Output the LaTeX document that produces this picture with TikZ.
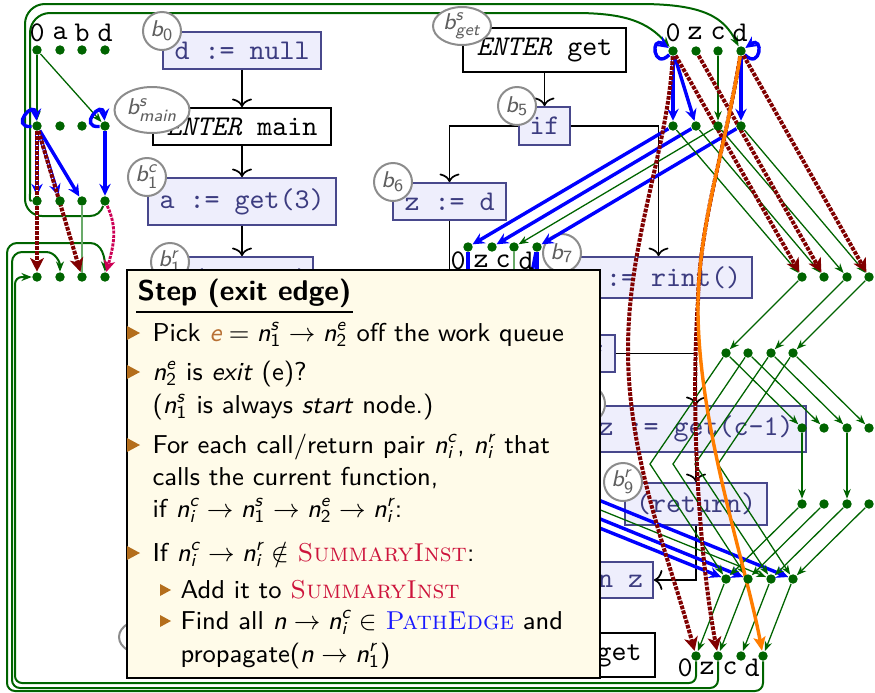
\RequirePackage{fix-cm}
\documentclass[tikz,border=0pt]{standalone}
\usepackage{amsmath,amssymb}
\usetikzlibrary{arrows.meta,shapes.geometric}

\pgfdeclarelayer{calls}
\pgfdeclarelayer{boxes}
\pgfdeclarelayer{edges}
\pgfdeclarelayer{top}
\pgfsetlayers{calls,boxes,edges,main,top}

\definecolor{dgreen}{RGB}{0,100,0}
\definecolor{lgreen}{RGB}{105,170,105}
\definecolor{dred}{RGB}{128,0,0}
\definecolor{crim}{RGB}{205,0,85}
\definecolor{orng}{RGB}{255,125,0}
\definecolor{pblue}{RGB}{0,0,255}
\definecolor{boxfill}{RGB}{238,238,252}
\definecolor{boxline}{RGB}{72,72,140}
\definecolor{boxtext}{RGB}{60,60,128}
\definecolor{labgray}{RGB}{140,140,140}
\definecolor{labtext}{RGB}{95,95,95}
\definecolor{cream}{RGB}{255,251,233}
\definecolor{itemcol}{RGB}{180,110,28}
\definecolor{ecol}{RGB}{184,112,52}
\definecolor{sumcol}{RGB}{205,20,60}
\definecolor{pathcol}{RGB}{25,25,255}

% sans-serif math letters, as on the slides
\newcommand\sv[1]{\text{\normalfont\sffamily\itshape #1}}
\newcommand\su[1]{\text{\normalfont\sffamily #1}}
\newcommand\Nd[2]{\sv{n}^{\sv{#1}}_{#2}}
\newcommand\SumInst{\textcolor{sumcol}{\textrm{\textsc{SummaryInst}}}}
\newcommand\PathE{\textcolor{pathcol}{\textrm{\textsc{PathEdge}}}}

\begin{document}
\begin{tikzpicture}[x=0.35pt,y=0.35pt,
  dot/.style={circle,fill=dgreen,inner sep=0pt,minimum size=3.3pt},
  var/.style={inner sep=0pt,font=\fontsize{10}{12}\selectfont\ttfamily},
  stmt/.style={draw=boxline,fill=boxfill,text=boxtext,line width=0.6pt,inner sep=0pt,font=\fontsize{10}{12}\selectfont\ttfamily},
  ctl/.style={draw=black,fill=white,line width=0.6pt,inner sep=0pt,font=\fontsize{10}{12}\selectfont\ttfamily},
  blab/.style={circle,draw=labgray,fill=white,line width=0.7pt,inner sep=0pt,minimum size=13.3pt,text=labtext,font=\fontsize{8}{9}\selectfont},
  elab/.style={ellipse,draw=labgray,fill=white,line width=0.7pt,inner sep=0pt,text=labtext,font=\fontsize{8}{9}\selectfont},
  flow/.style={draw=black,line width=0.6pt,-{To[length=3pt,width=7pt]}},
  sg/.style={draw=dgreen,line width=0.45pt,-{Stealth[length=3.4pt,width=2.6pt]}},
  lg/.style={draw=lgreen,line width=0.7pt},
  pe/.style={draw=pblue,line width=1.2pt,-{Stealth[length=4.2pt,width=4pt,inset=1.5pt]}},
  rp/.style={draw=dred,line width=1.4pt,dash pattern=on 1.3pt off 0.45pt,preaction={draw=white,solid,-},-{Stealth[length=4.8pt,width=4.8pt,inset=1.3pt]}},
  sm/.style={draw=crim,line width=1pt,dash pattern=on 1.1pt off 0.4pt,preaction={draw=white,solid,-},-{Stealth[length=4pt,width=4pt,inset=1pt]}},
  op/.style={draw=orng,line width=1.2pt,-{Stealth[length=4.8pt,width=4.2pt,inset=1pt]}},
  call/.style={draw=dgreen,line width=0.7pt,-{Stealth[length=3.6pt,width=2.8pt]}},
  itxt/.style={anchor=base west,inner sep=0pt,font=\fontsize{9.05}{11}\selectfont\sffamily},
]
\useasboundingbox (0,0) rectangle (875,-692);

% ---------- exploded nodes of main ----------
\foreach \n/\x in {0/37,1/60,2/82,3/105}{
  \node[dot] (ma\n) at (\x,-50) {};
  \node[dot] (mb\n) at (\x,-126) {};
  \node[dot] (mc\n) at (\x,-201) {};
  \node[dot] (md\n) at (\x,-277) {};
}
\foreach \n/\x/\t in {0/37/0,1/60/a,2/82/b,3/105/d}
  \node[var] (mv\n) at (\x,-33) {\t};

% ---------- exploded nodes of get ----------
\foreach \n/\x in {0/673,1/696,2/718,3/741}{
  \node[dot] (ga\n) at (\x,-51) {};
  \node[dot] (gb\n) at (\x,-126) {};
}
\foreach \n/\x in {0/468,1/492,2/514,3/537}{
  \node[dot] (gc\n) at (\x,-247) {};
  \node[dot] (gd\n) at (\x,-475) {};
}
\foreach \n/\x in {0/802,1/824,2/847,3/869}{
  \node[dot] (ge\n) at (\x,-277) {};
  \node[dot] (gg\n) at (\x,-428) {};
  \node[dot] (gh\n) at (\x,-504) {};
}
\foreach \n/\x in {0/726,1/748,2/771,3/793}{
  \node[dot] (gf\n) at (\x,-353) {};
  \node[dot] (gi\n) at (\x,-579) {};
}
\foreach \n/\x in {0/696,1/718,2/741,3/763}
  \node[dot] (gj\n) at (\x,-656) {};
\foreach \n/\x/\t in {0/673/0,1/695/z,2/718/c,3/740/d}
  \node[var] (gva\n) at (\x,-33) {\t};
\foreach \n/\x/\t in {0/458/0,1/481/z,2/503/c,3/526/d}
  \node[var] (gvc\n) at (\x,-261) {\t};
\foreach \n/\x/\t in {0/685/0,1/707/z,2/730/c,3/752/d}
  \node[var] (gvj\n) at (\x,-668) {\t};

% ---------- control flow graph ----------
\begin{pgfonlayer}{boxes}
\node[stmt,minimum width=55.3pt,minimum height=12.95pt] (b0) at (242,-50.5) {d := null};
\node[ctl,minimum width=62.3pt,minimum height=12.95pt] (bmain) at (242,-126.5) {\textit{ENTER} main};
\node[stmt,minimum width=65.8pt,minimum height=16.45pt] (b1c) at (242,-201.5) {a := get(3)};
\node[stmt,minimum width=43.75pt,minimum height=16.1pt] (b1r) at (250.5,-280) {(return)};
\node[ctl,minimum width=57.05pt,minimum height=15.4pt] (bget) at (544.5,-50) {\textit{ENTER} get};
\node[stmt,minimum width=17.85pt,minimum height=13.3pt] (b5) at (544.5,-126) {if};
\node[stmt,minimum width=39.55pt,minimum height=12.95pt] (b6) at (449.5,-201.5) {z := d};
\node[stmt,minimum width=65.45pt,minimum height=14.35pt] (b7) at (658.5,-277.5) {z := rint()};
\node[stmt,minimum width=17.85pt,minimum height=12.95pt] (b8) at (589.5,-353.5) {if};
\node[stmt,minimum width=77pt,minimum height=16.1pt] (b9c) at (696,-429) {z := get(c-1)};
\node[stmt,minimum width=49.7pt,minimum height=14.7pt] (b9r) at (696,-504) {(return)};
\node[stmt,minimum width=49pt,minimum height=12.6pt] (b10) at (583,-580) {return z};
\node[ctl,minimum width=52.5pt,minimum height=15.4pt] (bexit) at (580,-655) {\textit{EXIT} get};

\draw[flow] (b0) -- (bmain);
\draw[flow] (bmain) -- (b1c);
\draw[flow] (b1c.south) -- (b1c.south |- b1r.north);
\draw[flow] (bget) -- (b5);
\draw[flow] (b5.west) -| (b6.north);
\draw[flow] (b5.east) -| (b7.north);
\draw[flow] (b6.south) |- (b10.west);
\draw[flow] (b8.east) -| (b9c.north);
\draw[flow] (b9c) -- (b9r);
\draw[flow] (b9r.south) |- (b10.east);

\node[blab] (lb0) at (162,-31) {$\sv{b}_{\su{0}}$};
\node[elab,minimum width=26.25pt,minimum height=16.1pt] (lbmain) at (152,-110) {$\sv{b}^{\sv{s}}_{\sv{main}}$};
\node[blab] (lb1c) at (147,-177) {$\sv{b}^{\sv{c}}_{\su{1}}$};
\node[blab] (lb1r) at (170,-262) {$\sv{b}^{\sv{r}}_{\su{1}}$};
\node[elab,minimum width=20.3pt,minimum height=13.3pt] (lbget) at (462,-26) {$\sv{b}^{\sv{s}}_{\sv{get}}$};
\node[blab] (lb5) at (517,-106) {$\sv{b}_{\su{5}}$};
\node[blab] (lb6) at (393,-182) {$\sv{b}_{\su{6}}$};
\node[blab] (lb7) at (562,-253) {$\sv{b}_{\su{7}}$};
\node[blab] (lb9c) at (586,-404) {};
\node[blab] (lb9r) at (623,-482) {$\sv{b}^{\sv{r}}_{\su{9}}$};
\node[elab,minimum width=21.7pt,minimum height=13.3pt] (lbexit) at (150,-637) {};
\end{pgfonlayer}

% ---------- call and return edges ----------
\begin{pgfonlayer}{calls}
\draw[call] (mc0.west) to[out=180,in=-90] (30,-194) -- (30,-33) to[out=90,in=180] (50,-13)
  -- (575,-13) .. controls (625,-13) and (648,-22) .. (ga0);
\draw[call] (mc3) to[out=-110,in=0] (90,-216) -- (42,-216) to[out=180,in=-90] (25,-199)
  -- (25,-24) to[out=90,in=180] (45,-4) -- (640,-4) .. controls (705,-4) and (724,-18) .. (ga3);
\draw[call] (gj0) -- (696,-676) to[out=-90,in=0] (689,-683) -- (22,-683) to[out=180,in=-90] (15,-676)
  -- (15,-284) to[out=90,in=180] (22,-277) -- (md0);
\draw[call] (gj1) -- (718,-680) to[out=-90,in=0] (710,-688) -- (20,-688) to[out=180,in=-90] (12,-680)
  -- (12,-262) to[out=90,in=180] (22,-252) -- (46,-252) to[out=0,in=90] (md1);
\draw[call] (gj3) -- (763,-683) to[out=-90,in=0] (755,-691) -- (15,-691) to[out=180,in=-90] (7,-683)
  -- (7,-253) to[out=90,in=180] (17,-243) -- (90,-243) to[out=0,in=90] (md3);
\end{pgfonlayer}

% ---------- exploded supergraph edges ----------
\begin{pgfonlayer}{edges}
% main
\draw[sg] (ma0) -- (mb0);
\draw[sg] (ma0) -- (mb3);
\draw[lg] (mc2) -- (md2);
\draw[pe] (mb0) -- (mc0);
\draw[pe] (mb0) -- (mc1);
\draw[pe] (mb0) -- (mc2);
\draw[pe] (mb3) -- (mc3);
\draw[pe] (mb0) to[loop,out=185,in=95,min distance=8pt] (mb0);
\draw[pe] (mb3) to[loop,out=185,in=95,min distance=8pt] (mb3);
\draw[rp] (mb0) -- (md0);
\draw[rp] (mb0) -- (md2);
\draw[sm] (mc3) to[out=-65,in=75] (md3);
% get: entry and first branch
\draw[sg] (ga2) -- (gb2);
\draw[pe] (ga0) -- (gb0);
\draw[pe] (ga0) -- (gb1);
\draw[pe] (ga3) -- (gb3);
\draw[pe] (ga0) to[loop,out=225,in=145,min distance=8pt] (ga0);
\draw[pe] (ga3) to[loop,out=-45,in=35,min distance=8pt] (ga3);
\draw[sg] (gb2) -- (gc2);
\foreach \n in {0,1,3} \draw[pe] (gb\n) -- (gc\n);
\foreach \n in {0,1,2,3} \draw[sg] (gb\n) -- (ge\n);
% left branch through b6
\draw[lg] (gc2) -- (gd2);
\draw[pe] (gc0) -- (gd0);
\draw[pe] (gc3) -- (gd3);
\draw[pe] (gc3) -- (gd1);
\foreach \n in {0,1,2,3} \draw[sg] (gd\n) -- (gi\n);
\foreach \n in {0,1,3} \draw[pe] (gd\n) -- (gi\n);
% right branch through b7 ... b9
\foreach \n in {0,2,3} \draw[sg] (ge\n) -- (gf\n);
\foreach \n in {0,1,2,3} \draw[sg] (gf\n) -- (gg\n);
\foreach \n/\bx in {0/650,1/673,2/695,3/718} \draw[sg] (gf\n) -- (\bx,-464) -- (gi\n);
\foreach \n in {0,2} \draw[sg] (gg\n) -- (gh\n);
\foreach \n in {0,1,2,3} \draw[sg] (gh\n) -- (gi\n);
\foreach \n in {0,1,2,3} \draw[sg] (gi\n) -- (gj\n);
% path edges from the entry of get
\draw[rp] (ga0) -- (ge0);
\draw[rp] (ga1) -- (ge1);
\draw[rp] (ga3) -- (ge3);
\draw[rp] (ga0) .. controls (668,-150) and (628,-240) .. (628,-350)
  .. controls (628,-460) and (670,-560) .. (gj0);
\draw[rp] (ga3) .. controls (725,-150) and (700,-220) .. (698,-300)
  .. controls (690,-420) and (700,-560) .. (gj1);
\draw[op] (ga3) .. controls (725,-150) and (700,-220) .. (698,-300)
  .. controls (696,-420) and (745,-560) .. (gj3);
\end{pgfonlayer}

% ---------- the step description ----------
\begin{pgfonlayer}{top}
\node[draw=black,fill=cream,line width=0.8pt,inner sep=0pt,anchor=north west,
  minimum width=165.55pt,minimum height=142.8pt] (popup) at (126,-269) {};
\node[itxt,font=\fontsize{10}{12}\selectfont\sffamily\bfseries] (ttl) at (137,-300) {Step (exit edge)};
\draw[line width=0.45pt] (136,-312) -- (353,-312);
\foreach \b in {341,380,453,561}
  \fill[itemcol] (127,-\b+15) -- (127,-\b+1) -- (140,-\b+8) -- cycle;
\foreach \b in {598,629}
  \fill[itemcol] (160,-\b+14) -- (160,-\b+2) -- (171,-\b+8) -- cycle;
\node[itxt] (t1) at (152,-341) {Pick $\textcolor{ecol}{\sv{e}} = \Nd{s}{\su{1}} \to \Nd{e}{\su{2}}$ off the work queue};
\node[itxt] (t2) at (152,-380) {$\Nd{e}{\su{2}}$ is \textit{exit} (e)?};
\node[itxt] (t3) at (152,-413) {($\Nd{s}{\su{1}}$ is always \textit{start} node.)};
\node[itxt] (t4) at (152,-453) {For each call/return pair $\Nd{c}{\sv{i}}$, $\Nd{r}{\sv{i}}$ that};
\node[itxt] (t5) at (152,-485) {calls the current function,};
\node[itxt] (t6) at (152,-517) {if $\Nd{c}{\sv{i}} \to \Nd{s}{\su{1}} \to \Nd{e}{\su{2}} \to \Nd{r}{\sv{i}}$:};
\node[itxt] (t7) at (152,-561) {If $\Nd{c}{\sv{i}} \to \Nd{r}{\sv{i}} \notin$ \SumInst:};
\node[itxt] (t8) at (180,-598) {Add it to \SumInst};
\node[itxt] (t9) at (180,-629) {Find all $\sv{n} \to \Nd{c}{\sv{i}} \in$ \PathE{} and};
\node[itxt] (t10) at (180,-662) {propagate($\sv{n} \to \Nd{r}{\su{1}}$)};
\end{pgfonlayer}
\end{tikzpicture}
\end{document}
